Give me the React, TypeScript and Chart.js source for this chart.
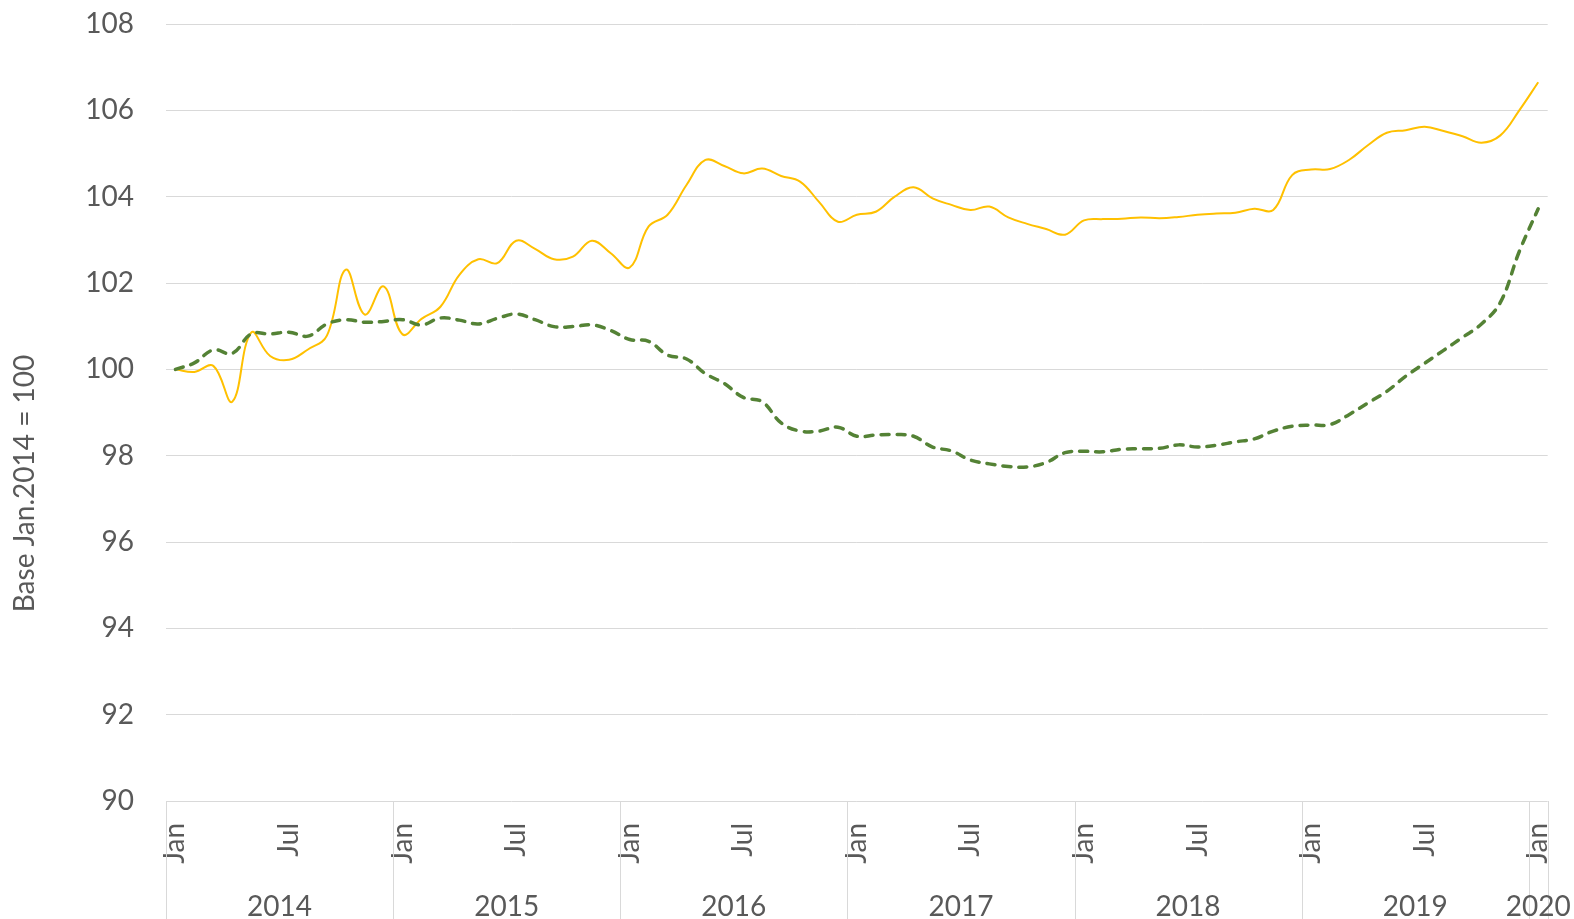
import React, { useEffect, useRef } from "react";
import { Chart, registerables } from "chart.js";

Chart.register(...registerables);

const monthNames = ["Jan", "Feb", "Mar", "Apr", "May", "Jun", "Jul", "Aug", "Sep", "Oct", "Nov", "Dec"];
const years = ["2014", "2015", "2016", "2017", "2018", "2019", "2020"];
const yTicks = [90, 92, 94, 96, 98, 100, 102, 104, 106, 108];
const yTitle = "Base Jan.2014 = 100";

// Monthly categories Jan 2014 .. Jan 2020
const categories: string[] = [];
for (let y = 0; y < years.length; y++) {
  for (let m = 0; m < 12; m++) {
    if (y === years.length - 1 && m > 0) break;
    categories.push(monthNames[m] + " " + years[y]);
  }
}

const seriesYellow = [
  100.0, 99.94, 100.08, 99.25, 100.85, 100.31, 100.22, 100.46, 100.78, 102.31, 101.27, 101.92,
  100.81, 101.17, 101.45, 102.19, 102.55, 102.46, 102.98, 102.79, 102.55, 102.61, 102.98, 102.69,
  102.36, 103.31, 103.58, 104.27, 104.85, 104.71, 104.54, 104.65, 104.48, 104.35, 103.88, 103.42,
  103.58, 103.65, 104.0, 104.22, 103.96, 103.81, 103.69, 103.77, 103.52, 103.37, 103.25, 103.12,
  103.45, 103.48, 103.49, 103.52, 103.5, 103.53, 103.58, 103.61, 103.63, 103.72, 103.69, 104.5,
  104.63, 104.64, 104.85, 105.19, 105.48, 105.54, 105.62, 105.52, 105.4, 105.25, 105.42, 106.0,
  106.65,
];

const seriesGreen = [
  100.0, 100.15, 100.45, 100.37, 100.82, 100.82, 100.86, 100.77, 101.05, 101.15, 101.09, 101.11,
  101.15, 101.03, 101.19, 101.14, 101.05, 101.18, 101.28, 101.15, 100.99, 100.99, 101.03, 100.9,
  100.69, 100.65, 100.33, 100.24, 99.9, 99.67, 99.35, 99.25, 98.76, 98.57, 98.57, 98.66,
  98.45, 98.48, 98.49, 98.45, 98.2, 98.11, 97.9, 97.81, 97.75, 97.74, 97.84, 98.07,
  98.1, 98.09, 98.15, 98.16, 98.17, 98.25, 98.2, 98.24, 98.32, 98.39, 98.57, 98.68,
  98.71, 98.72, 98.95, 99.22, 99.49, 99.84, 100.14, 100.44, 100.74, 101.05, 101.55, 102.73,
  103.72,
];

const FONT = "Lato, 'Open Sans', sans-serif";
const TEXT_COLOR = "#595959";
const GRID_COLOR = "#d9d9d9";
const FONT_SIZE = 28;

const multiLevelAxis = {
  id: "multiLevelAxis",
  afterDraw(chart: any) {
    const { ctx, chartArea } = chart;
    const x = chart.scales.x;
    const half = (x.getPixelForValue(1) - x.getPixelForValue(0)) / 2;
    const bounds: number[] = [];
    for (let i = 0; i < categories.length; i += 12) {
      bounds.push(x.getPixelForValue(i) - half);
    }
    bounds.push(chartArea.right);
    ctx.save();
    ctx.strokeStyle = GRID_COLOR;
    ctx.lineWidth = 1;
    for (const b of bounds) {
      const px = Math.round(b) + 0.5;
      ctx.beginPath();
      ctx.moveTo(px, chartArea.bottom);
      ctx.lineTo(px, chart.height);
      ctx.stroke();
    }
    ctx.fillStyle = TEXT_COLOR;
    ctx.font = `${FONT_SIZE}px ${FONT}`;
    ctx.textAlign = "center";
    ctx.textBaseline = "alphabetic";
    for (let k = 0; k < years.length; k++) {
      const cx = (bounds[k] + bounds[k + 1]) / 2;
      ctx.fillText(years[k], cx, chart.height - 3);
    }
    // y-axis title
    ctx.translate(25, (chartArea.top + chart.height) / 2 + 12);
    ctx.rotate(-Math.PI / 2);
    ctx.textBaseline = "middle";
    ctx.fillText(yTitle, 0, 0);
    ctx.restore();
  },
};

export default function App() {
  const ref = useRef<HTMLCanvasElement | null>(null);

  useEffect(() => {
    document.body.style.margin = "0";
    document.body.style.overflow = "hidden";
    if (!ref.current) return;
    const chart = new Chart(ref.current, {
      type: "line",
      data: {
        labels: categories,
        datasets: [
          {
            label: "Series 1",
            data: seriesYellow,
            borderColor: "#FFC000",
            borderWidth: 2,
            pointRadius: 0,
            tension: 0.4,
            fill: false,
            order: 1,
          },
          {
            label: "Series 2",
            data: seriesGreen,
            borderColor: "#548235",
            borderWidth: 3.5,
            borderDash: [8, 8],
            borderCapStyle: "round",
            pointRadius: 0,
            tension: 0.4,
            fill: false,
            order: 0,
          },
        ],
      },
      options: {
        responsive: false,
        animation: false,
        devicePixelRatio: 1,
        layout: { padding: { left: 0, right: 26, top: 24, bottom: 0 } },
        plugins: {
          legend: { display: false },
          tooltip: { enabled: false },
        },
        scales: {
          x: {
            type: "category",
            offset: true,
            grid: {
              display: true,
              color: "rgba(0,0,0,0)",
              drawOnChartArea: false,
              drawTicks: true,
              tickLength: 20,
              tickColor: "rgba(0,0,0,0)",
            },
            border: { display: false },
            ticks: {
              autoSkip: false,
              maxRotation: 90,
              minRotation: 90,
              padding: 2,
              color: TEXT_COLOR,
              font: { family: FONT, size: FONT_SIZE },
              callback: (_v: any, i: number) => (i % 12 === 0 ? "Jan" : i % 12 === 6 ? "Jul" : ""),
            },
            afterFit: (s: any) => {
              s.height = 118;
            },
          },
          y: {
            min: 90,
            max: 108,
            afterBuildTicks: (s: any) => {
              s.ticks = yTicks.map((v) => ({ value: v }));
            },
            grid: {
              color: GRID_COLOR,
              lineWidth: 1,
              drawTicks: true,
              tickLength: 29,
              tickColor: "rgba(0,0,0,0)",
            },
            border: { display: false },
            ticks: {
              padding: 3,
              color: TEXT_COLOR,
              font: { family: FONT, size: FONT_SIZE },
            },
            afterFit: (s: any) => {
              s.width = 166;
            },
          },
        },
      },
      plugins: [multiLevelAxis],
    });
    return () => chart.destroy();
  }, []);

  return (
    <div style={{ width: 1574, height: 919 }}>
      <canvas ref={ref} width={1574} height={919} style={{ display: "block" }} />
    </div>
  );
}
